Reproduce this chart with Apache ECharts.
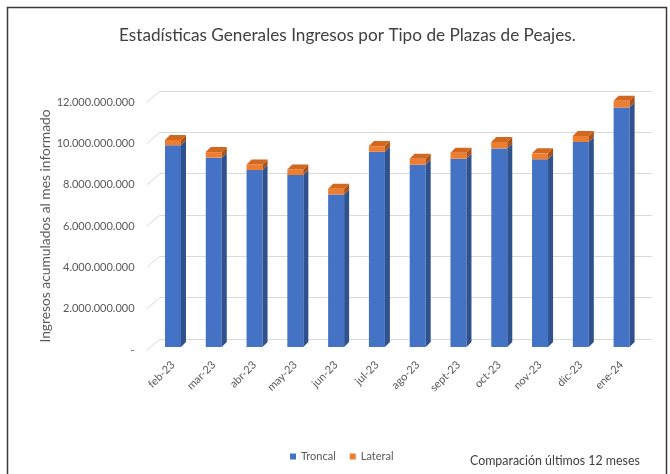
<!DOCTYPE html>
<html>
<head>
<meta charset="utf-8">
<script src="https://cdn.jsdelivr.net/npm/echarts@6/dist/echarts.min.js"></script>
<style>
  html, body { margin: 0; padding: 0; background: #fff; }
  #chart { width: 670px; height: 474px; }
</style>
</head>
<body>
<div id="chart"></div>
<script>
// meses y valores
const months = ['feb-23', 'mar-23', 'abr-23', 'may-23', 'jun-23', 'jul-23',
                'ago-23', 'sept-23', 'oct-23', 'nov-23', 'dic-23', 'ene-24'];
const troncal = [9.76e9, 9.16e9, 8.56e9, 8.32e9, 7.38e9, 9.45e9,
                 8.82e9, 9.11e9, 9.61e9, 9.08e9, 9.92e9, 11.59e9];
const lateral = [0.26e9, 0.27e9, 0.27e9, 0.27e9, 0.28e9, 0.27e9,
                 0.29e9, 0.29e9, 0.31e9, 0.29e9, 0.29e9, 0.32e9];
const yTicks = [0, 2e9, 4e9, 6e9, 8e9, 10e9, 12e9];

const FONT = 'Lato';
const BAR_W = 16, DEPTH_X = 5, DEPTH_Y = 5, LIFT = 3;

function fmt(v) {
    if (v === 0) return '-';
    return String(v).replace(/\B(?=(\d{3})+(?!\d))/g, '.');
}

function sideFace(x, yTop, yBot) {
    return [[x, yTop], [x + DEPTH_X, yTop - DEPTH_Y], [x + DEPTH_X, yBot - DEPTH_Y], [x, yBot]];
}

function box(api, from, to, front, side, top) {
    const a = api.coord([api.value(0), from]);
    const b = api.coord([api.value(0), to]);
    const x0 = a[0] - BAR_W / 2;
    const yBot = a[1] - LIFT, yTop = b[1] - LIFT;
    const kids = [
        { type: 'rect', shape: { x: x0, y: yTop, width: BAR_W, height: yBot - yTop }, style: { fill: front } },
        { type: 'polygon', shape: { points: sideFace(x0 + BAR_W, yTop, yBot) }, style: { fill: side } }
    ];
    if (top) {
        kids.push({
            type: 'polygon',
            shape: { points: [[x0, yTop], [x0 + DEPTH_X, yTop - DEPTH_Y], [x0 + BAR_W + DEPTH_X, yTop - DEPTH_Y], [x0 + BAR_W, yTop]] },
            style: { fill: top }
        });
    }
    return kids;
}

const chart = echarts.init(document.getElementById('chart'));

chart.setOption({
    animation: false,
    title: [{
        text: 'Estadísticas Generales Ingresos por Tipo de Plazas de Peajes.',
        left: 114, top: 22,
        textStyle: { fontFamily: FONT, fontSize: 17.2, fontWeight: 'normal', color: '#404040' }
    }, {
        text: 'Comparación últimos 12 meses',
        left: 465, top: 450,
        textStyle: { fontFamily: FONT, fontSize: 12.4, fontWeight: 'normal', color: '#404040' }
    }],
    legend: {
        left: 285, top: 446,
        icon: 'rect', itemWidth: 6, itemHeight: 6, itemGap: 14,
        textStyle: { fontFamily: FONT, fontSize: 11, color: '#595959' },
        data: ['Troncal', 'Lateral']
    },
    graphic: [{
        type: 'rect',
        shape: { x: 7.5, y: 7.5, width: 659, height: 490 },
        style: { fill: 'none', stroke: '#3a3a3a', lineWidth: 1.5 },
        silent: true
    }],
    grid: [
        { left: 152.6, right: 28, top: 102, bottom: 124 },
        { left: 160, right: 18, top: 91, bottom: 135 }
    ],
    xAxis: [{
        type: 'category', gridIndex: 0, data: months,
        axisLine: { show: false }, axisTick: { show: false },
        axisLabel: { rotate: 45, margin: 13, fontFamily: FONT, fontSize: 11, color: '#595959' }
    }, {
        type: 'value', gridIndex: 1, min: 0, max: 1, show: false
    }],
    yAxis: [{
        type: 'value', gridIndex: 0, min: 0, max: 12e9, interval: 2e9,
        name: 'Ingresos acumulados al mes informado',
        nameLocation: 'middle', nameGap: 100, nameMoveOverlap: false,
        nameTextStyle: { fontFamily: FONT, fontSize: 13.8, color: '#595959' },
        axisLine: { show: false }, axisTick: { show: false }, splitLine: { show: false },
        axisLabel: { margin: 18, fontFamily: FONT, fontSize: 11, color: '#595959', formatter: fmt }
    }, {
        type: 'value', gridIndex: 1, min: 0, max: 12e9, interval: 2e9,
        axisLine: { show: false }, axisTick: { show: false }, axisLabel: { show: false },
        splitLine: { lineStyle: { color: '#d9d9d9', width: 1 } }
    }],
    series: [{
        // diagonales del piso / pared
        type: 'custom', xAxisIndex: 1, yAxisIndex: 1, silent: true,
        data: yTicks.map(v => [0, v]),
        renderItem: (params, api) => {
            const p = api.coord([0, api.value(1)]);
            return {
                type: 'line',
                shape: { x1: p[0] - 13, y1: p[1] + 11, x2: p[0], y2: p[1] },
                style: { stroke: '#d9d9d9', lineWidth: 1 }
            };
        }
    }, {
        name: 'Troncal', type: 'custom', xAxisIndex: 0, yAxisIndex: 0,
        itemStyle: { color: '#4472C4' },
        data: troncal.map((v, i) => [i, v]),
        renderItem: (params, api) => ({
            type: 'group',
            children: box(api, 0, api.value(1), '#4472C4', '#2F528F')
        })
    }, {
        name: 'Lateral', type: 'custom', xAxisIndex: 0, yAxisIndex: 0,
        itemStyle: { color: '#ED7D31' },
        data: lateral.map((v, i) => [i, troncal[i], troncal[i] + v]),
        renderItem: (params, api) => ({
            type: 'group',
            children: box(api, api.value(1), api.value(2), '#ED7D31', '#A9521A', '#D2671F')
        })
    }]
});
</script>
</body>
</html>
